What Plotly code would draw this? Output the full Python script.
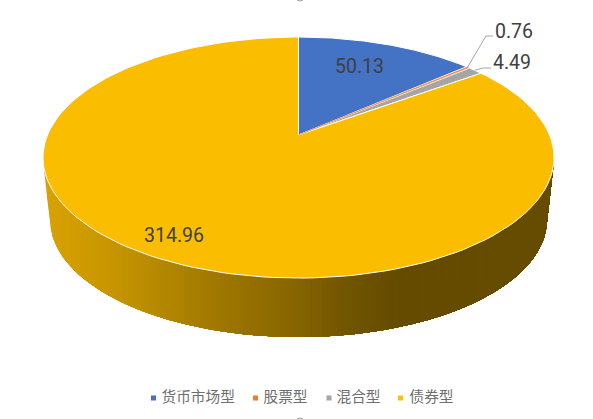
import numpy as np
import plotly.graph_objs as go

# data
categories = ['货币市场型', '股票型', '混合型', '债券型']
values = [50.13, 0.76, 4.49, 314.96]
colors = ['#4472C4', '#ED7D31', '#A5A5A5', '#FFC000']
top_color = '#FBBD00'


# perspective pie: disc centre sits above the centre of the ellipse
APEX_X, APEX_Y = 298.5, 135
RX, RY, PERSP = 251, 116.3, 0.187
DEPTH, BOTTOM_SCALE = 63, 0.972


def project(theta, scale=1.0, dy=0.0):
    # theta is clockwise from 12 o'clock
    u, v = np.sin(theta), np.cos(theta)
    d = 1 + PERSP * v
    return APEX_X + scale * RX * u / d, APEX_Y + dy - scale * RY * v / d


def side_color(x):
    # dark gradient of the extruded wall
    xs = [45, 120, 200, 298, 340, 400, 554]
    rs = [217, 197, 166, 134, 116, 100, 102]
    gs = [163, 148, 125, 101, 87, 75, 77]
    return 'rgb(%d,%d,0)' % (np.interp(x, xs, rs), np.interp(x, xs, gs))


def lower_hull(x, y):
    # lower outline of the wall in picture coordinates (y points down)
    hull = []
    for p in sorted(zip(x, y)):
        while len(hull) > 1 and ((hull[-1][0] - hull[-2][0]) * (p[1] - hull[-2][1])
                                 - (hull[-1][1] - hull[-2][1]) * (p[0] - hull[-2][0])) >= 0:
            hull.pop()
        hull.append(p)
    return np.array(hull)


def draw_side(fig, n_bands=130):
    ts = np.linspace(0, 2 * np.pi, 361)
    x_top, y_top = project(ts)
    x_bot, y_bot = project(ts, BOTTOM_SCALE, DEPTH)
    hull = lower_hull(np.r_[x_top, x_bot], np.r_[y_top, y_bot])
    hx, hy = hull[:, 0], hull[:, 1]
    y_mid = y_top[180] - (y_top[180] - y_top[0]) / 2

    # painted left to right, each band runs to the right end so no seams show
    for x0 in np.linspace(hx[0], hx[-1], n_bands, endpoint=False):
        keep = hx > x0
        x = np.r_[x0, hx[keep], hx[-1], x0, x0]
        y = np.r_[np.interp(x0, hx, hy), hy[keep], y_mid, y_mid, np.interp(x0, hx, hy)]
        fig.add_trace(go.Scatter(x=x, y=y, mode='lines', fill='toself', fillcolor=side_color(x0 + 2),
                                 hoverinfo='skip', line={'width': 0}))


def draw_slices(fig):
    bounds = np.r_[0, np.cumsum(values)] / np.sum(values) * 2 * np.pi
    # the sliver goes last, with its own colour as outline, or the white lines would eat it
    for i in [0, 2, 3, 1]:
        ts = np.linspace(bounds[i], bounds[i + 1], 160)
        x, y = project(ts)
        color = top_color if i == 3 else colors[i]
        line_color = colors[i] if i == 1 else 'white'
        line_width = 0.5 if i == 1 else 1
        fig.add_trace(go.Scatter(x=np.r_[APEX_X, x, APEX_X], y=np.r_[APEX_Y, y, APEX_Y], mode='lines',
                                 fill='toself', fillcolor=color, name=categories[i], text=str(values[i]),
                                 hoverinfo='name+text', line={'color': line_color, 'width': line_width}))
    return bounds


fig = go.Figure()
draw_side(fig)
bounds = draw_slices(fig)

# leader lines of the two thin slices
for i, knee, end in [(1, (486, 36), (493, 36)), (2, (483, 68), (491, 68))]:
    ax, ay = project((bounds[i] + bounds[i + 1]) / 2)
    fig.add_trace(go.Scatter(x=[ax, knee[0], end[0]], y=[ay, knee[1], end[1]], mode='lines',
                             hoverinfo='skip', line={'color': '#A6A6A6', 'width': 1}))

# data labels
label_pos = [(359.5, 66), (514, 31), (511.5, 62.5), (174, 235.5)]
for v, (lx, ly) in zip(values, label_pos):
    fig.add_annotation(text=str(v), x=lx, y=ly, showarrow=False,
                       font={'family': 'Roboto', 'size': 19.5, 'color': '#404040'})

# legend drawn by hand so the tight Office spacing survives
legend_x = [153.5, 255.5, 329, 400.5]
legend_text_x = [161.5, 263.5, 336.5, 409.5]
fig.add_trace(go.Scatter(x=legend_x, y=[398] * 4, mode='markers', hoverinfo='skip',
                         marker={'symbol': 'square', 'size': 5, 'color': colors}))
fig.add_trace(go.Scatter(x=legend_text_x, y=[398] * 4, mode='text', text=categories,
                         textposition='middle right', hoverinfo='skip',
                         textfont={'family': 'Noto Sans CJK SC', 'size': 14.67, 'color': '#6E6E6E'}))

# chart frame handles cut off by the picture edge
fig.add_trace(go.Scatter(x=[300, 300], y=[-3, 422], mode='markers', hoverinfo='skip',
                         marker={'symbol': 'circle-open', 'size': 8, 'color': '#A0A0A0', 'line': {'width': 1}}))

fig.update_layout({
    'width': 593,
    'height': 419,
    'margin': {'l': 0, 'r': 0, 't': 0, 'b': 0},
    'showlegend': False,
    'paper_bgcolor': 'white',
    'plot_bgcolor': 'white',
    'xaxis': {'range': [0, 593], 'visible': False, 'fixedrange': True},
    'yaxis': {'range': [419, 0], 'visible': False, 'fixedrange': True},
})

fig.write_html('out.html', config={'displayModeBar': False},
               post_script="document.body.style.margin='0';")
